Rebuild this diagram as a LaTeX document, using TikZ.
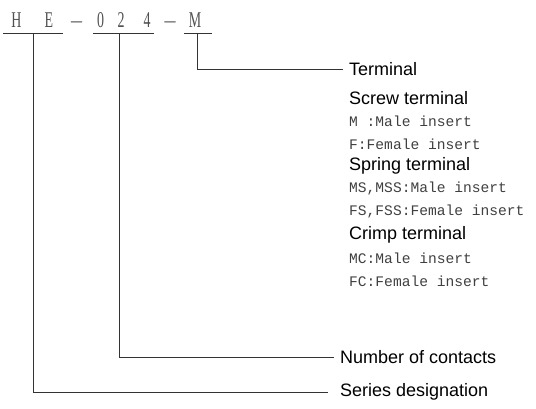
\documentclass[tikz,border=0pt]{standalone}
\usepackage{fontspec}
\setmainfont{Liberation Sans}
\newfontfamily\codefont[FakeStretch=0.62]{Liberation Serif}
\newfontfamily\dashfont{Liberation Serif}
\newfontfamily\itemfont{Liberation Mono}
\definecolor{codegray}{HTML}{505050}
\definecolor{itemgray}{HTML}{404040}
\definecolor{linegray}{HTML}{333333}
\begin{document}
\begin{tikzpicture}[x=1pt,y=-1pt,
  codechar/.style={font=\codefont\fontsize{22.5}{22.5}\selectfont, text=codegray, inner sep=0pt, anchor=base},
  codedash/.style={font=\dashfont\fontsize{22}{22}\selectfont, text=codegray, inner sep=0pt, anchor=base},
  lbl/.style={font=\fontsize{18}{18}\selectfont, text=black, anchor=west, inner sep=0pt},
  item/.style={font=\itemfont\fontsize{14.6}{14.6}\selectfont, text=itemgray, anchor=west, inner sep=0pt},
  conn/.style={draw=linegray, line width=0.9pt},
  uline/.style={draw=linegray, line width=1pt}]
\useasboundingbox (0,0) rectangle (536,409);
% code characters
\node[codechar] (cH) at (16.5,27.5) {H};
\node[codechar] (cE) at (49,27.5) {E};
\node[codedash] (d1) at (76.5,27.5) {–};
\node[codechar] (c0) at (100.5,27.5) {0};
\node[codechar] (c2) at (121,27.5) {2};
\node[codechar] (c4) at (147,27.5) {4};
\node[codedash] (d2) at (170,27.5) {–};
\node[codechar] (cM) at (195,27.5) {M};
% underlines
\coordinate (u1a) at (3,34); \coordinate (u1b) at (63,34);
\coordinate (u2a) at (93,34); \coordinate (u2b) at (154,34);
\coordinate (u3a) at (184,34); \coordinate (u3b) at (212,34);
\draw[uline] (u1a) -- (u1b);
\draw[uline] (u2a) -- (u2b);
\draw[uline] (u3a) -- (u3b);
\coordinate (s1) at (33,34);
\coordinate (s2) at (119,34);
\coordinate (s3) at (197,34);
% labels
\node[lbl] (term) at (349,69) {Terminal};
\node[lbl] (screw) at (349,98) {Screw terminal};
\node[item] (i1) at (349,121) {M :Male insert};
\node[item] (i2) at (349,144) {F:Female insert};
\node[lbl] (spring) at (349,166) {Spring terminal};
\node[item] (i3) at (349,189) {MS,MSS:Male insert};
\node[item] (i4) at (349,212) {FS,FSS:Female insert};
\node[lbl] (crimp) at (349,235) {Crimp terminal};
\node[item] (i5) at (349,258) {MC:Male insert};
\node[item] (i6) at (349,281) {FC:Female insert};
\node[lbl] (num) at (340,357) {Number of contacts};
\node[lbl] (ser) at (340,392) {Series designation};
% connectors
\draw[conn] (s3) |- ([xshift=-6pt]term.west);
\draw[conn] (s2) |- ([xshift=-6pt]num.west);
\draw[conn] (s1) |- ([xshift=-12pt]ser.west);
\end{tikzpicture}
\end{document}
